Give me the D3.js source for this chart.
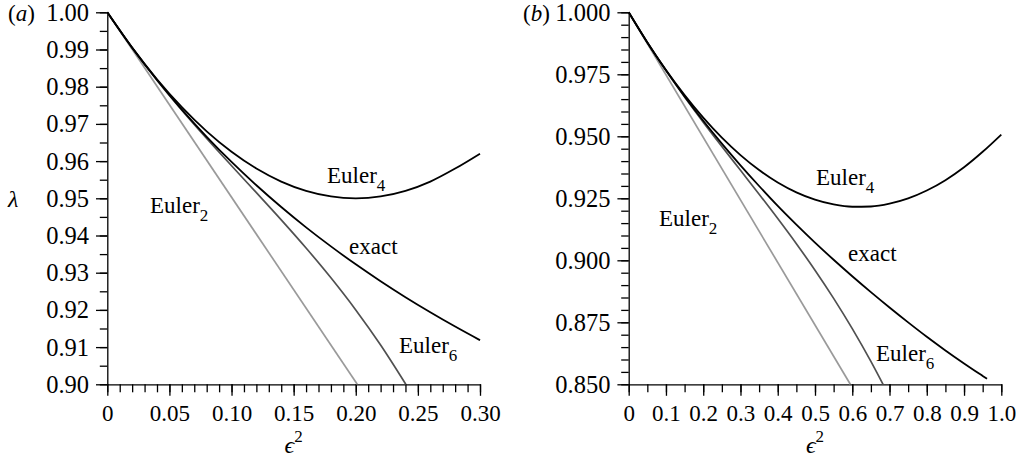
<!DOCTYPE html>
<html lang="en">

<head>
  <meta charset="UTF-8">
  <title>Euler approximations of lambda</title>
  <script src="https://d3js.org/d3.v7.min.js"></script>
  <style>
    body {
      margin: 0;
      background: #ffffff;
    }

    svg text {
      font-family: "Liberation Serif", "DejaVu Serif", serif;
      fill: #000;
    }

    .axis path,
    .axis line {
      stroke: #000;
      stroke-width: 1.3px;
    }

    .curve {
      fill: none;
    }
  </style>
</head>

<body>
  <div id="chart"></div>
  <script>
    // panel (a): eps^2 from 0 to 0.30
    const aEps = [0, 0.02, 0.04, 0.06, 0.08, 0.10, 0.12, 0.14, 0.16, 0.18, 0.20, 0.22, 0.24, 0.26, 0.28, 0.30];
    const aExact = [1, 0.99047, 0.98180, 0.97385, 0.96654, 0.95978, 0.95350, 0.94765, 0.94219, 0.93707, 0.93225, 0.92771, 0.92342, 0.91937, 0.91552, 0.91186];
    const aEuler4 = [1, 0.9905, 0.982, 0.9745, 0.968, 0.9625, 0.958, 0.9545, 0.952, 0.9505, 0.95, 0.9505, 0.952, 0.9545, 0.958, 0.962];
    const aEuler6Eps = [0, 0.02, 0.04, 0.06, 0.08, 0.10, 0.12, 0.14, 0.16, 0.18, 0.20, 0.22, 0.24, 0.2403];
    const aEuler6 = [1, 0.99047, 0.98176, 0.97369, 0.96608, 0.95875, 0.95152, 0.94421, 0.93664, 0.92863, 0.92, 0.91057, 0.90016, 0.9];
    const aEuler2Eps = [0, 0.2012];
    const aEuler2 = [1, 0.9];

    const aYTicks = [0.90, 0.91, 0.92, 0.93, 0.94, 0.95, 0.96, 0.97, 0.98, 0.99, 1.00];
    const aYLabels = ["0.90", "0.91", "0.92", "0.93", "0.94", "0.95", "0.96", "0.97", "0.98", "0.99", "1.00"];
    const aXTicks = [0, 0.05, 0.10, 0.15, 0.20, 0.25, 0.30];
    const aXLabels = ["0", "0.05", "0.10", "0.15", "0.20", "0.25", "0.30"];

    // panel (b): eps^2 from 0 to 1.0
    const bEps = [0, 0.05, 0.1, 0.15, 0.2, 0.25, 0.3, 0.35, 0.4, 0.45, 0.5, 0.55, 0.6, 0.65, 0.7, 0.75, 0.8, 0.85, 0.9, 0.95, 1.0];
    const bEuler4 = [1, 0.98785, 0.97672, 0.96662, 0.95753, 0.94946, 0.94242, 0.93640, 0.93139, 0.92741, 0.92445, 0.92251, 0.92159, 0.92170, 0.92282, 0.92496, 0.92813, 0.93231, 0.93752, 0.94375, 0.9507];
    const bExactEps = [0, 0.05, 0.1, 0.15, 0.2, 0.25, 0.3, 0.35, 0.4, 0.45, 0.5, 0.55, 0.6, 0.65, 0.7, 0.75, 0.8, 0.85, 0.9, 0.95, 0.9617];
    const bExact = [1, 0.98783, 0.9766, 0.96608, 0.95626, 0.94705, 0.93831, 0.92996, 0.92193, 0.91437, 0.90712, 0.90022, 0.89357, 0.88717, 0.88097, 0.87497, 0.86917, 0.86367, 0.85842, 0.85337, 0.8522];
    const bEuler6Eps = [0, 0.05, 0.1, 0.15, 0.2, 0.25, 0.3, 0.35, 0.4, 0.45, 0.5, 0.55, 0.6, 0.65, 0.6825];
    const bEuler6 = [1, 0.98782, 0.97649, 0.96585, 0.95571, 0.94591, 0.93628, 0.92665, 0.91683, 0.90668, 0.89601, 0.88466, 0.87245, 0.85922, 0.85];
    const bEuler2Eps = [0, 0.5948];
    const bEuler2 = [1, 0.85];

    const bYTicks = [0.850, 0.875, 0.900, 0.925, 0.950, 0.975, 1.000];
    const bYLabels = ["0.850", "0.875", "0.900", "0.925", "0.950", "0.975", "1.000"];
    const bXTicks = [0, 0.1, 0.2, 0.3, 0.4, 0.5, 0.6, 0.7, 0.8, 0.9, 1.0];
    const bXLabels = ["0", "0.1", "0.2", "0.3", "0.4", "0.5", "0.6", "0.7", "0.8", "0.9", "1.0"];

    const zip = (xs, ys) => xs.map((x, i) => [x, ys[i]]);

    const panels = [
      {
        tag: "a", tagX: 8, left: 107.3, right: 480,
        xDomain: [0, 0.30], yDomain: [0.90, 1.00],
        xTicks: aXTicks, xLabels: aXLabels, xMinor: d3.range(0, 0.3001, 0.01),
        yTicks: aYTicks, yLabels: aYLabels, yMinor: d3.range(0.90, 1.0001, 0.005),
        series: [
          {pts: zip(aEuler2Eps, aEuler2), color: "#9a9a9a", w: 1.7},
          {pts: zip(aEuler6Eps, aEuler6), color: "#505050", w: 1.7},
          {pts: zip(aEps, aEuler4), color: "#000", w: 1.8},
          {pts: zip(aEps, aExact), color: "#000", w: 1.8}
        ],
        labels: [
          {t: "Euler", sub: "4", x: 327, y: 183},
          {t: "Euler", sub: "2", x: 150, y: 213},
          {t: "exact", x: 349, y: 254},
          {t: "Euler", sub: "6", x: 399, y: 352.5}
        ]
      },
      {
        tag: "b", tagX: 523, left: 628.7, right: 1001.3,
        xDomain: [0, 1.0], yDomain: [0.85, 1.0],
        xTicks: bXTicks, xLabels: bXLabels, xMinor: d3.range(0, 1.0001, 0.05),
        yTicks: bYTicks, yLabels: bYLabels, yMinor: d3.range(0.85, 1.0001, 0.005),
        series: [
          {pts: zip(bEuler2Eps, bEuler2), color: "#9a9a9a", w: 1.7},
          {pts: zip(bEuler6Eps, bEuler6), color: "#505050", w: 1.7},
          {pts: zip(bEps, bEuler4), color: "#000", w: 1.8},
          {pts: zip(bExactEps, bExact), color: "#000", w: 1.8}
        ],
        labels: [
          {t: "Euler", sub: "4", x: 816, y: 185},
          {t: "Euler", sub: "2", x: 659, y: 226},
          {t: "exact", x: 848, y: 261},
          {t: "Euler", sub: "6", x: 876, y: 361}
        ]
      }
    ];

    const plotTop = 12.3, plotBottom = 384.3;

    const svg = d3.select("#chart")
      .append("svg")
      .attr("width", 1024)
      .attr("height", 459);

    panels.forEach(p => {
      const x = d3.scaleLinear().domain(p.xDomain).range([p.left, p.right]);
      const y = d3.scaleLinear().domain(p.yDomain).range([plotBottom, plotTop]);

      // minor ticks first
      svg.append("g")
        .attr("class", "axis")
        .attr("transform", "translate(0," + plotBottom + ")")
        .call(d3.axisBottom(x).tickValues(p.xMinor).tickSize(8).tickSizeOuter(0).tickFormat(""))
        .select(".domain").remove();

      svg.append("g")
        .attr("class", "axis")
        .attr("transform", "translate(" + p.left + ",0)")
        .call(d3.axisLeft(y).tickValues(p.yMinor).tickSize(7.5).tickSizeOuter(0).tickFormat(""))
        .select(".domain").remove();

      const xAxis = svg.append("g")
        .attr("class", "axis")
        .attr("transform", "translate(0," + plotBottom + ")")
        .call(d3.axisBottom(x).tickValues(p.xTicks).tickSize(11.5).tickSizeOuter(0)
          .tickPadding(10).tickFormat((d, i) => p.xLabels[i]));

      const yAxis = svg.append("g")
        .attr("class", "axis")
        .attr("transform", "translate(" + p.left + ",0)")
        .call(d3.axisLeft(y).tickValues(p.yTicks).tickSize(11.3).tickSizeOuter(0)
          .tickPadding(7).tickFormat((d, i) => p.yLabels[i]));

      xAxis.attr("font-size", 23);
      yAxis.attr("font-size", 24.5);
      yAxis.selectAll("text").attr("dy", "0.33em");
      xAxis.selectAll("text").attr("dy", "0.68em");

      const line = d3.line()
        .x(d => x(d[0]))
        .y(d => y(d[1]))
        .curve(d3.curveMonotoneX);

      p.series.forEach(s => {
        svg.append("path")
          .attr("class", "curve")
          .attr("d", line(s.pts))
          .attr("stroke", s.color)
          .attr("stroke-width", s.w);
      });

      p.labels.forEach(l => {
        const t = svg.append("text")
          .attr("x", l.x)
          .attr("y", l.y)
          .attr("font-size", 23)
          .text(l.t);
        if (l.sub) {
          t.append("tspan")
            .attr("dy", 8)
            .attr("font-size", 17)
            .text(l.sub);
        }
      });

      // x axis title: epsilon squared
      const xt = svg.append("text")
        .attr("x", (p.left + p.right) / 2)
        .attr("y", 453)
        .attr("text-anchor", "middle")
        .attr("font-size", 24);
      xt.append("tspan").attr("font-style", "italic").text("\u03f5");
      xt.append("tspan").attr("dy", -11).attr("font-size", 17).text("2");

      // panel tag
      const tg = svg.append("text")
        .attr("x", p.tagX)
        .attr("y", 20.7)
        .attr("font-size", 23);
      tg.append("tspan").text("(");
      tg.append("tspan").attr("font-style", "italic").text(p.tag);
      tg.append("tspan").text(")");
    });

    svg.append("text")
      .attr("x", 8)
      .attr("y", 206.5)
      .attr("font-size", 24)
      .attr("font-style", "italic")
      .text("\u03bb");
  </script>
</body>

</html>
